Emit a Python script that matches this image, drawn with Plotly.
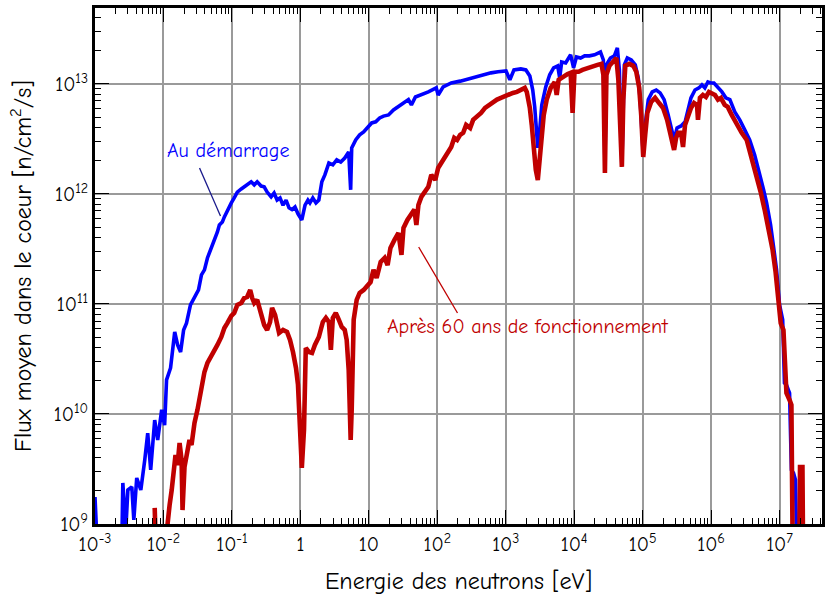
import plotly.graph_objects as go

# ---- Data (energy in eV, flux in n/cm2/s) ----
blue_energy = [1.0e-3, 1.07e-3, 2.47e-3, 2.55e-3, 2.82e-3, 3.02e-3, 3.45e-3, 3.69e-3, 4.07e-3, 4.67e-3,
               5.33e-3, 5.89e-3, 6.51e-3, 7.45e-3, 8.24e-3, 9.42e-3, 1.04e-2, 1.11e-2, 1.27e-2, 1.46e-2,
               1.61e-2, 1.78e-2, 1.97e-2, 2.17e-2, 2.48e-2, 2.84e-2, 3.25e-2, 3.59e-2, 3.97e-2, 4.39e-2,
               4.7e-2, 5.19e-2, 5.55e-2, 6.14e-2, 6.56e-2, 7.25e-2, 7.76e-2, 8.87e-2, 9.8e-2, 0.108,
               0.12, 0.137, 0.151, 0.173, 0.191, 0.212, 0.234, 0.267, 0.296, 0.327,
               0.374, 0.413, 0.457, 0.505, 0.558, 0.618, 0.683, 0.755, 0.835, 0.923,
               1.05, 1.17, 1.29, 1.38, 1.52, 1.69, 1.86, 2.06, 2.28, 2.61,
               2.98, 3.4, 3.89, 4.45, 5.08, 5.43, 5.62, 6.43, 7.35, 8.4,
               9.6, 11.0, 12.6, 14.4, 16.4, 19.4, 22.9, 27.1, 32.1, 37.9,
               41.9, 47.9, 58.5, 74, 96.6, 103, 122, 160, 216, 282,
               356, 467, 610, 771, 1.01e3, 1.15e3, 1.32e3, 1.66e3, 1.97e3, 2.25e3,
               2.48e3, 2.65e3, 2.84e3, 2.94e3, 3.14e3, 3.36e3, 3.84e3, 4.39e3, 5.01e3, 5.74e3,
               6.14e3, 6.56e3, 7.5e3, 8.87e3, 9.8e3, 1.08e4, 1.24e4, 1.42e4, 1.67e4, 1.98e4,
               2.42e4, 2.67e4, 2.81e4, 2.96e4, 3.38e4, 3.86e4, 4.27e4, 4.57e4, 4.97e4, 5.4e4,
               5.97e4, 6.82e4, 7.8e4, 8.63e4, 9.2e4, 1.02e5, 1.09e5, 1.21e5, 1.38e5, 1.58e5,
               1.8e5, 2.06e5, 2.36e5, 2.6e5, 2.88e5, 3.18e5, 3.64e5, 4.17e5, 4.6e5, 5.08e5,
               5.82e5, 6.65e5, 7.35e5, 8.1e5, 8.98e5, 9.9e5, 1.1e6, 1.21e6, 1.34e6, 1.44e6,
               1.64e6, 1.88e6, 2.22e6, 2.62e6, 3.1e6, 3.66e6, 4.33e6, 5.12e6, 5.85e6, 6.47e6,
               7.4e6, 8.18e6, 9.04e6, 1.0e7, 1.11e7, 1.18e7, 1.26e7, 1.4e7, 1.49e7, 1.6e7,
               1.71e7, 1.77e7]
blue_flux = [1.76e9, 7e8, 7e8, 2.36e9, 8.9e8, 2.04e9, 2.17e9, 1.09e9, 2.62e9, 2.04e9,
             3.82e9, 6.7e9, 3.1e9, 8.8e9, 5.8e9, 1.09e10, 7.9e9, 2.04e10, 2.62e10, 5.56e10,
             4.24e10, 3.66e10, 5.8e10, 6.7e10, 9.8e10, 1.16e11, 1.34e11, 1.84e11, 2.04e11, 2.62e11,
             2.91e11, 3.44e11, 3.82e11, 4.52e11, 5.22e11, 5.56e11, 6.18e11, 7.47e11, 8.28e11, 9.2e11,
             1.04e12, 1.11e12, 1.16e12, 1.26e12, 1.29e12, 1.21e12, 1.29e12, 1.18e12, 1.16e12, 1.04e12,
             9.4e11, 1.02e12, 8.8e11, 9.2e11, 7.9e11, 8.8e11, 7.47e11, 7.2e11, 7.6e11, 6.6e11,
             5.8e11, 7.9e11, 8.8e11, 8.28e11, 9.2e11, 8.28e11, 8.8e11, 1.29e12, 1.49e12, 1.91e12,
             1.84e12, 2.04e12, 1.95e12, 2.12e12, 2.41e12, 1.09e12, 2.62e12, 3.1e12, 3.44e12, 3.66e12,
             4.06e12, 4.42e12, 4.52e12, 4.9e12, 5.1e12, 5.22e12, 5.8e12, 6.18e12, 6.7e12, 7.2e12,
             6.44e12, 7.6e12, 7.94e12, 8.46e12, 9.2e12, 7.94e12, 9.4e12, 1.02e13, 1.06e13, 1.11e13,
             1.16e13, 1.21e13, 1.26e13, 1.29e13, 1.31e13, 1.09e13, 1.34e13, 1.37e13, 1.34e13, 1.18e13,
             8.8e12, 6.18e12, 3.82e12, 2.62e12, 3.82e12, 6.44e12, 9.4e12, 1.21e13, 1.4e13, 1.46e13,
             1.13e13, 1.58e13, 1.55e13, 1.84e13, 1.4e13, 1.76e13, 1.72e13, 1.8e13, 1.8e13, 1.84e13,
             1.95e13, 1.65e13, 1.84e12, 1.49e13, 1.72e13, 1.8e13, 2.12e13, 1.34e13, 1.84e12, 1.49e13,
             1.72e13, 1.65e13, 1.49e13, 1.13e13, 7.2e12, 2.26e12, 4.24e12, 7.2e12, 8.46e12, 8.8e12,
             8.28e12, 7.2e12, 5.22e12, 3.98e12, 3.1e12, 3.98e12, 4.15e12, 4.52e12, 5.8e12, 7.47e12,
             8.8e12, 9.2e12, 9.8e12, 9.2e12, 1.04e13, 1.02e13, 1.02e13, 9.6e12, 8.8e12, 8.46e12,
             7.47e12, 7.2e12, 5.56e12, 4.71e12, 3.82e12, 3.1e12, 2.26e12, 1.55e12, 1.09e12, 8.28e11,
             5.22e11, 3.3e11, 2.04e11, 9.8e10, 7.2e10, 1.91e10, 1.84e10, 1.55e10, 3.1e9, 2.91e9,
             2.51e9, 7e8]

red_energy = [7.45e-3, 7.7e-3, 1.08e-2, 1.15e-2, 1.23e-2, 1.32e-2, 1.41e-2, 1.5e-2, 1.61e-2, 1.72e-2,
              1.84e-2, 1.9e-2, 2.03e-2, 2.25e-2, 2.4e-2, 2.57e-2, 2.84e-2, 3.14e-2, 3.59e-2, 3.97e-2,
              4.39e-2, 4.85e-2, 5.55e-2, 6.14e-2, 7.0e-2, 7.76e-2, 8.57e-2, 9.8e-2, 0.108, 0.12,
              0.137, 0.151, 0.167, 0.185, 0.198, 0.212, 0.234, 0.267, 0.296, 0.327,
              0.361, 0.386, 0.427, 0.489, 0.558, 0.638, 0.706, 0.78, 0.863, 0.923,
              0.986, 1.05, 1.13, 1.2, 1.33, 1.48, 1.63, 1.86, 2.13, 2.36,
              2.61, 2.79, 2.98, 3.29, 3.64, 4.02, 4.45, 4.75, 5.08, 5.43,
              5.62, 6.01, 6.65, 7.35, 8.4, 9.3, 10.6, 11.7, 13.0, 14.9,
              17.0, 18.8, 20.7, 23.7, 27.1, 30.0, 32.1, 36.6, 41.9, 46.3,
              49.5, 53, 58.5, 67, 74, 81.8, 93.5, 103, 114, 131,
              145, 160, 177, 195, 216, 239, 264, 302, 334, 381,
              436, 499, 570, 652, 745, 851, 973, 1.11e3, 1.27e3, 1.46e3,
              1.66e3, 1.9e3, 2.03e3, 2.25e3, 2.4e3, 2.57e3, 2.75e3, 2.94e3, 3.14e3, 3.36e3,
              3.59e3, 3.97e3, 4.54e3, 5.19e3, 5.55e3, 5.93e3, 6.78e3, 8.0e3, 8.87e3, 9.48e3,
              1.01e4, 1.16e4, 1.32e4, 1.57e4, 1.85e4, 2.19e4, 2.5e4, 2.67e4, 2.81e4, 2.96e4,
              3.27e4, 3.74e4, 4.13e4, 4.42e4, 4.65e4, 4.97e4, 5.22e4, 5.58e4, 6.38e4, 7.3e4,
              8.07e4, 8.91e4, 9.53e4, 1.02e5, 1.09e5, 1.17e5, 1.33e5, 1.52e5, 1.74e5, 1.99e5,
              2.28e5, 2.52e5, 2.79e5, 2.88e5, 3.08e5, 3.29e5, 3.64e5, 3.89e5, 4.16e5, 4.6e5,
              5.08e5, 5.64e5, 6.23e5, 6.43e5, 6.87e5, 7.6e5, 8.4e5, 9.3e5, 1.03e6, 1.14e6,
              1.26e6, 1.39e6, 1.58e6, 1.75e6, 2.0e6, 2.37e6, 2.8e6, 3.31e6, 3.92e6, 4.63e6,
              5.3e6, 6.05e6, 6.92e6, 7.91e6, 8.75e6, 9.66e6, 1.04e7, 1.14e7, 1.18e7, 1.26e7,
              1.4e7, 1.49e7, 1.55e7, 1.95e7, 1.99e7, 2.16e7, 2.2e7]
red_flux = [1.4e9, 7e8, 7e8, 1.13e9, 1.49e9, 2.04e9, 3.1e9, 4.24e9, 3.44e9, 5.45e9,
            3.82e9, 1.34e9, 3.3e9, 4.91e9, 5.8e9, 5.22e9, 8.28e9, 1.09e10, 1.65e10, 2.41e10,
            2.91e10, 3.23e10, 3.82e10, 4.24e10, 5.01e10, 6.05e10, 6.7e10, 7.8e10, 8.28e10, 9.8e10,
            1.02e11, 1.13e11, 1.16e11, 1.34e11, 1.13e11, 1.02e11, 1.09e11, 8.28e10, 6.44e10, 5.8e10,
            6.86e10, 9.2e10, 7.94e10, 5.45e10, 5.8e10, 5.56e10, 4.71e10, 3.66e10, 2.62e10, 1.84e10,
            8.8e9, 3.23e9, 7.2e9, 3.98e10, 3.66e10, 3.59e10, 4.24e10, 5.01e10, 6.86e10, 7.47e10,
            6.86e10, 3.82e10, 7.47e10, 8.28e10, 7.2e10, 6.18e10, 5.8e10, 4.71e10, 2.51e10, 5.8e9,
            1.09e10, 7.2e10, 1.09e11, 1.26e11, 1.34e11, 1.46e11, 1.58e11, 2.04e11, 1.72e11, 2.41e11,
            2.62e11, 2.26e11, 3.23e11, 3.82e11, 4.42e11, 2.79e11, 4.91e11, 5.8e11, 6.7e11, 7.2e11,
            5.22e11, 7.94e11, 9.4e11, 1.09e12, 1.16e12, 1.49e12, 1.34e12, 1.72e12, 1.91e12, 2.26e12,
            2.51e12, 2.67e12, 3.23e12, 3.1e12, 3.44e12, 3.59e12, 4.24e12, 3.98e12, 4.71e12, 5.01e12,
            5.45e12, 6.05e12, 6.44e12, 6.7e12, 7.2e12, 7.47e12, 7.78e12, 8.1e12, 8.28e12, 8.46e12,
            8.8e12, 9.2e12, 8.46e12, 6.05e12, 4.24e12, 2.51e12, 1.65e12, 1.34e12, 2.04e12, 3.44e12,
            5.22e12, 7.2e12, 9.2e12, 1.04e13, 7.94e12, 1.09e13, 1.16e13, 1.23e13, 1.26e13, 5.45e12,
            1.29e13, 1.29e13, 1.34e13, 1.4e13, 1.43e13, 1.49e13, 1.52e13, 1.21e13, 1.55e12, 1.21e13,
            1.46e13, 1.58e13, 1.72e13, 1.09e13, 4.71e12, 1.76e12, 7.2e12, 1.46e13, 1.52e13, 1.46e13,
            1.29e13, 9.2e12, 5.22e12, 2.17e12, 3.44e12, 5.45e12, 6.86e12, 7.47e12, 6.7e12, 6.05e12,
            4.71e12, 3.44e12, 2.79e12, 2.51e12, 3.23e12, 3.59e12, 3.59e12, 2.67e12, 4.24e12, 5.22e12,
            6.05e12, 6.7e12, 6.44e12, 4.71e12, 7.47e12, 7.94e12, 7.6e12, 8.46e12, 8.28e12, 7.94e12,
            7.2e12, 7.47e12, 6.44e12, 6.18e12, 5.22e12, 4.24e12, 3.59e12, 3.1e12, 2.12e12, 1.49e12,
            1.04e12, 7.2e11, 4.71e11, 3.1e11, 1.95e11, 1.09e11, 6.7e10, 5.8e10, 4.06e10, 1.55e10,
            1.34e10, 1.21e10, 7e8, 7e8, 3.3e9, 3.3e9, 7e8]

x_tick_vals = [1e-3, 1e-2, 1e-1, 1, 10, 1e2, 1e3, 1e4, 1e5, 1e6, 1e7]
x_tick_text = ["10<sup>-3</sup>", "10<sup>-2</sup>", "10<sup>-1</sup>", "1", "10",
               "10<sup>2</sup>", "10<sup>3</sup>", "10<sup>4</sup>", "10<sup>5</sup>",
               "10<sup>6</sup>", "10<sup>7</sup>"]
y_tick_vals = [1e9, 1e10, 1e11, 1e12, 1e13]
y_tick_text = ["10<sup>9</sup>", "10<sup>10</sup>", "10<sup>11</sup>", "10<sup>12</sup>", "10<sup>13</sup>"]
minor_digits = [2, 3, 4, 5, 6, 7, 8, 9]
x_decades = [1e-3, 1e-2, 1e-1, 1, 10, 1e2, 1e3, 1e4, 1e5, 1e6, 1e7]
y_decades = [1e9, 1e10, 1e11, 1e12, 1e13]

label_blue = "Au démarrage"
label_red = "Après 60 ans de fonctionnement"

FONT = "Comic Sans MS, Comic Neue, Open Sans, sans-serif"
BLUE = "#0000ff"
RED = "#c00000"

fig = go.Figure()
fig.add_trace(go.Scatter(x=blue_energy, y=blue_flux, mode="lines",
                         line=dict(color=BLUE, width=3.6), name=label_blue, showlegend=False))
fig.add_trace(go.Scatter(x=red_energy, y=red_flux, mode="lines",
                         line=dict(color=RED, width=4.6), name=label_red, showlegend=False))

def axis_style(decades):
    minor_vals = [d * m for d in decades for m in minor_digits]
    return dict(
        type="log", showline=True, linewidth=3, linecolor="black", mirror="allticks",
        ticks="inside", ticklen=14, tickwidth=1.2, tickcolor="black",
        showgrid=True, gridcolor="#9a9a9a", gridwidth=1.5,
        minor=dict(ticks="inside", ticklen=6, tickwidth=1, tickcolor="black", showgrid=False,
                   tickmode="array", tickvals=minor_vals),
        tickfont=dict(family=FONT, size=20, color="black"),
        zeroline=False,
    )

fig.update_xaxes(**axis_style(x_decades), range=[-3, 7.62], tickmode="array",
                 tickvals=x_tick_vals, ticktext=x_tick_text,
                 title=dict(text="Energie des neutrons [eV]", font=dict(family=FONT, size=24, color="black"),
                            standoff=18))
fig.update_yaxes(**axis_style(y_decades), range=[9, 13.69], tickmode="array",
                 tickvals=y_tick_vals, ticktext=y_tick_text,
                 title=dict(text="Flux moyen dans le coeur [n/cm<sup>2</sup>/s]",
                            font=dict(family=FONT, size=24, color="black"), standoff=16))

fig.add_annotation(x=0.1836, y=0.7248, xref="paper", yref="paper", text=label_blue, showarrow=False,
                   xanchor="center", yanchor="middle", font=dict(family=FONT, size=20, color=BLUE))
fig.add_annotation(x=0.5959, y=0.3837, xref="paper", yref="paper", text=label_red, showarrow=False,
                   xanchor="center", yanchor="middle", font=dict(family=FONT, size=20, color=RED))
fig.add_shape(type="line", xref="paper", yref="paper", x0=0.1438, y0=0.6899, x1=0.1726, y1=0.5969,
              line=dict(color="#1a1a8c", width=1.3))
fig.add_shape(type="line", xref="paper", yref="paper", x0=0.4452, y0=0.5368, x1=0.4986, y1=0.4089,
              line=dict(color=RED, width=1.3))

fig.update_layout(
    width=826, height=601, autosize=False,
    margin=dict(l=95, r=1, t=8, b=77),
    paper_bgcolor="white", plot_bgcolor="white",
    font=dict(family=FONT, color="black"),
)

fig.write_html("out.html", config={"displayModeBar": False},
               post_script="document.body.style.margin='0';document.body.style.padding='0';")
